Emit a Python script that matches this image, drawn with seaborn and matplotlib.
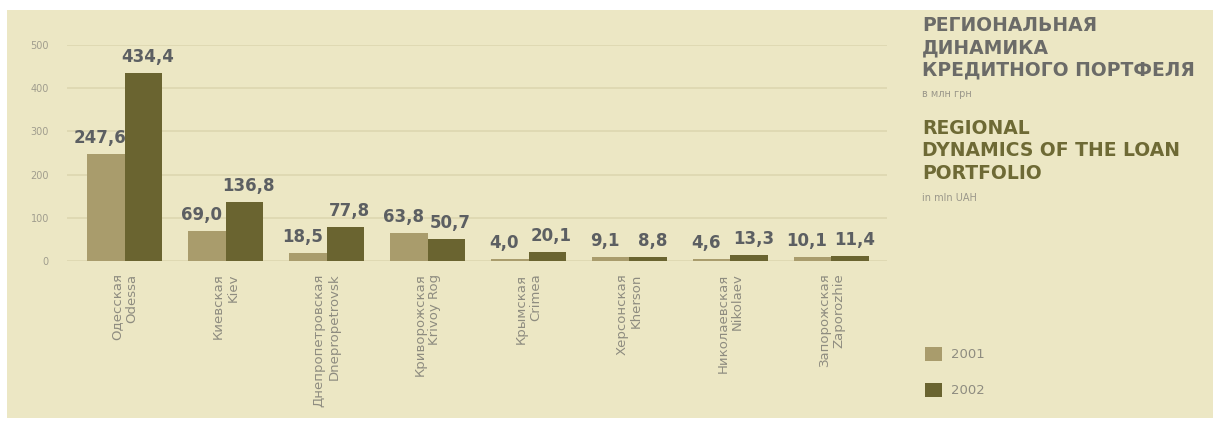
import matplotlib
matplotlib.use("Agg")
import matplotlib.pyplot as plt
from matplotlib.patches import Rectangle
import seaborn as sns
import pandas as pd

# Loan portfolio by region, mln UAH
regions_ru = ["Одесская", "Киевская", "Днепропетровская", "Криворожская",
              "Крымская", "Херсонская", "Николаевская", "Запорожская"]
regions_en = ["Odessa", "Kiev", "Dnepropetrovsk", "Krivoy Rog",
              "Crimea", "Kherson", "Nikolaev", "Zaporozhie"]
values_2001 = [247.6, 69.0, 18.5, 63.8, 4.0, 9.1, 4.6, 10.1]
values_2002 = [434.4, 136.8, 77.8, 50.7, 20.1, 8.8, 13.3, 11.4]
years = ["2001", "2002"]
y_ticks = [0, 100, 200, 300, 400, 500]

BG = "#ECE7C4"
GRID = "#DCD6AF"
C2001 = "#A99C6C"
C2002 = "#6A6430"
LABEL = "#5C5F62"

sns.set_theme(style="white")
plt.rcParams["font.family"] = ["DejaVu Sans"]

df = pd.DataFrame({
    "region": regions_en * 2,
    "year": [years[0]] * len(regions_en) + [years[1]] * len(regions_en),
    "value": values_2001 + values_2002,
})

fig = plt.figure(figsize=(12.13, 4.21), dpi=100, facecolor="white")
# cream panel behind everything
fig.patches.append(Rectangle((7 / 1213, 3 / 421), 1 - 7 / 1213, 1 - 13 / 421,
                             transform=fig.transFigure, facecolor=BG,
                             edgecolor="none", zorder=-10))

ax = fig.add_axes([67 / 1213, 160 / 421, 820 / 1213, 216 / 421])
ax.set_facecolor("none")

sns.barplot(data=df, x="region", y="value", hue="year", order=regions_en,
            hue_order=years, palette=[C2001, C2002], width=0.745,
            saturation=1, edgecolor="none", ax=ax, legend=True)

ax.set_ylim(0, 500)
ax.set_xlim(-0.57, 7.55)
ax.set_yticks(y_ticks)
ax.set_yticklabels([str(t) for t in y_ticks], color="#A09D8E", fontsize=7)
ax.grid(axis="y", color=GRID, linewidth=1.1)
ax.set_axisbelow(True)
for s in ax.spines.values():
    s.set_visible(False)
ax.tick_params(axis="y", length=0, pad=13)
ax.tick_params(axis="x", length=0, pad=9)
ax.set_xlabel("")
ax.set_ylabel("")

ax.set_xticks(range(len(regions_en)))
ax.set_xticklabels([f"{r}\n{e}" for r, e in zip(regions_ru, regions_en)],
                   rotation=90, ha="center", va="top", multialignment="right",
                   fontsize=9.5, color="#8E8C80", linespacing=1.15)

# value labels: the 2001 label leans left, the 2002 label leans right
for cont, vals, dx in zip(ax.containers, [values_2001, values_2002], [-4, 3]):
    texts = ax.bar_label(cont,
                         labels=[f"{v:.1f}".replace(".", ",") for v in vals],
                         padding=5, fontsize=12, fontweight="bold",
                         color=LABEL, clip_on=False)
    for t in texts:
        t.xyann = (dx, t.xyann[1])

# legend
handles, labels = ax.get_legend_handles_labels()
ax.get_legend().remove()
fig.legend(handles, labels, loc="upper left",
           bbox_to_anchor=(913 / 1213, 1 - 335 / 421), frameon=False,
           fontsize=9.5, labelcolor="#8E8C80", handlelength=1.3,
           handleheight=1.3, handletextpad=0.7, labelspacing=1.6)

# title block
tx = 922 / 1213
fig.text(tx, 1 - 16 / 421,
         "РЕГИОНАЛЬНАЯ\nДИНАМИКА\nКРЕДИТНОГО ПОРТФЕЛЯ",
         fontsize=13.5, fontweight="bold", color="#6B6B68", va="top",
         ha="left", linespacing=1.22)
fig.text(tx, 1 - 94 / 421, "в млн грн", fontsize=7, color="#9A978A",
         va="center", ha="left")
fig.text(tx, 1 - 119 / 421,
         "REGIONAL\nDYNAMICS OF THE LOAN\nPORTFOLIO",
         fontsize=13.5, fontweight="bold", color="#6E6A35", va="top",
         ha="left", linespacing=1.22)
fig.text(tx, 1 - 198 / 421, "in mln UAH", fontsize=7, color="#9A978A",
         va="center", ha="left")

fig.savefig("out.png", dpi=100, facecolor="white")
